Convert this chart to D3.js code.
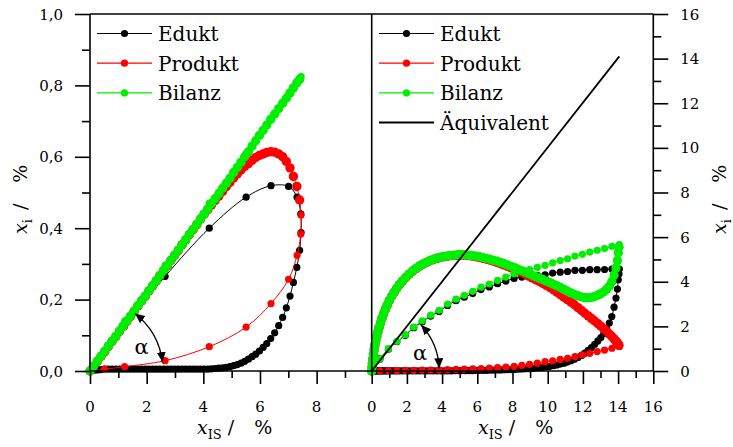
<!DOCTYPE html>
<html><head><meta charset="utf-8">
<script src="https://cdn.jsdelivr.net/npm/d3@7"></script>
<style>
body{margin:0;background:#fff}
svg{display:block}
text{font-family:"DejaVu Serif",serif;fill:#000}
</style>
</head><body>
<svg id="c" width="733" height="447"></svg>
<script>
// ---------------- DATA ----------------
// Left panel, phase A (sparse samples, x_IS rising)
const leftXA      = [0, 0.51, 1.22, 2.65, 4.21, 5.51, 6.39, 7.01, 7.31, 7.44, 7.45];
const leftEduktA  = [0, 0.051, 0.126, 0.265, 0.400, 0.487, 0.519, 0.517, 0.487, 0.440, 0.388];
const leftProduktA= [0, 0.005, 0.012, 0.029, 0.068, 0.123, 0.189, 0.257, 0.324, 0.384, 0.437];
const leftBilanzA = [0, 0.058, 0.140, 0.296, 0.470, 0.610, 0.708, 0.774, 0.811, 0.824, 0.825];
// Left panel, phase B (dense samples, x_IS falling)
const leftXB = [7.40, 7.30, 7.18, 7.06, 6.93, 6.80, 6.66, 6.52, 6.38, 6.24,
  6.11, 5.98, 5.85, 5.72, 5.59, 5.46, 5.33, 5.20, 5.07, 4.94,
  4.81, 4.68, 4.55, 4.42, 4.29, 4.16, 4.03, 3.90, 3.77, 3.64,
  3.51, 3.38, 3.25, 3.12, 2.99, 2.86, 2.73, 2.60, 2.47, 2.34,
  2.21, 2.08, 1.95, 1.82, 1.69, 1.56, 1.43, 1.30, 1.17, 1.04,
  0.91, 0.78, 0.65, 0.52, 0.39, 0.26, 0.13, 0.00];
const leftEduktB = [0.338, 0.290, 0.248, 0.210, 0.177, 0.150, 0.127, 0.107, 0.091, 0.077,
  0.066, 0.056, 0.047, 0.040, 0.033, 0.027, 0.022, 0.018, 0.015, 0.012,
  0.010, 0.009, 0.008, 0.007, 0.006, 0.005, 0.005, 0.005, 0.005, 0.005,
  0.005, 0.005, 0.005, 0.005, 0.005, 0.005, 0.005, 0.005, 0.005, 0.005,
  0.005, 0.005, 0.005, 0.005, 0.005, 0.005, 0.005, 0.005, 0.005, 0.005,
  0.005, 0.005, 0.005, 0.005, 0.004, 0.003, 0.002, 0];
const leftProduktB = [0.479, 0.517, 0.545, 0.569, 0.587, 0.600, 0.608, 0.613, 0.614, 0.612,
  0.608, 0.604, 0.598, 0.590, 0.581, 0.573, 0.563, 0.552, 0.541, 0.528,
  0.516, 0.503, 0.490, 0.478, 0.465, 0.452, 0.439, 0.425, 0.410, 0.396,
  0.382, 0.367, 0.353, 0.338, 0.324, 0.310, 0.295, 0.281, 0.267, 0.252,
  0.238, 0.224, 0.209, 0.196, 0.182, 0.167, 0.153, 0.139, 0.125, 0.111,
  0.096, 0.083, 0.069, 0.054, 0.041, 0.027, 0.013, 0];
const leftBilanzB = [0.817, 0.807, 0.793, 0.779, 0.764, 0.750, 0.735, 0.720, 0.705, 0.689,
  0.674, 0.660, 0.645, 0.630, 0.614, 0.600, 0.585, 0.570, 0.556, 0.540,
  0.526, 0.512, 0.497, 0.483, 0.469, 0.454, 0.440, 0.426, 0.411, 0.397,
  0.383, 0.368, 0.354, 0.339, 0.325, 0.311, 0.296, 0.282, 0.268, 0.253,
  0.239, 0.225, 0.210, 0.197, 0.183, 0.168, 0.154, 0.140, 0.126, 0.112,
  0.097, 0.084, 0.070, 0.055, 0.042, 0.028, 0.014, 0];

// Right panel, phase A (sparse)
const rightXA = [0, 0.47, 0.95, 1.43, 1.91, 2.39, 2.87, 3.35, 3.83, 4.31,
  4.79, 5.26, 5.74, 6.21, 6.68, 7.15, 7.62, 8.09, 8.53, 8.97,
  9.41, 9.85, 10.28, 10.71, 11.13, 11.55, 11.97, 12.39, 12.81, 13.23,
  13.65, 14.07];
const rightEduktA = [0, 0.54, 0.98, 1.31, 1.60, 1.94, 2.21, 2.46, 2.67, 2.94,
  3.15, 3.31, 3.47, 3.65, 3.77, 3.91, 4.03, 4.15, 4.21, 4.25,
  4.29, 4.31, 4.39, 4.43, 4.46, 4.51, 4.51, 4.54, 4.54, 4.55,
  4.57, 4.57];
const rightProduktA = [0, 0.01, 0.02, 0.02, 0.03, 0.03, 0.04, 0.04, 0.05, 0.06,
  0.07, 0.08, 0.10, 0.11, 0.13, 0.15, 0.18, 0.21, 0.25, 0.30,
  0.35, 0.42, 0.46, 0.52, 0.57, 0.64, 0.72, 0.79, 0.87, 0.94,
  1.02, 1.10];
const rightBilanzA = [0, 0.55, 1.00, 1.33, 1.63, 1.97, 2.25, 2.50, 2.72, 3.00,
  3.22, 3.39, 3.57, 3.76, 3.90, 4.06, 4.21, 4.36, 4.46, 4.55,
  4.64, 4.73, 4.85, 4.95, 5.03, 5.15, 5.23, 5.33, 5.41, 5.49,
  5.59, 5.67];
// Right panel, phase B (dense)
const rightXB = [14.05, 14.01, 13.96, 13.88, 13.77, 13.64, 13.50, 13.35, 13.19, 13.02,
  12.85, 12.67, 12.49, 12.30, 12.11, 11.92, 11.72, 11.52, 11.32, 11.12,
  10.92, 10.72, 10.52, 10.32, 10.12, 9.92, 9.72, 9.52, 9.32, 9.12,
  8.92, 8.72, 8.52, 8.32, 8.12, 7.92, 7.72, 7.52, 7.32, 7.12,
  6.92, 6.72, 6.52, 6.32, 6.12, 5.92, 5.72, 5.52, 5.32, 5.12,
  4.92, 4.72, 4.52, 4.32, 4.12, 3.92, 3.72, 3.52, 3.32, 3.12,
  2.92, 2.72, 2.52, 2.32, 2.12, 1.93, 1.75, 1.58, 1.42, 1.27,
  1.13, 1.00, 0.88, 0.77, 0.67, 0.58, 0.50, 0.42, 0.35, 0.29,
  0.23, 0.18, 0.14, 0.10, 0.07, 0.04, 0.02, 0.00];
const rightEduktB = [4.35, 4.09, 3.67, 3.27, 2.86, 2.44, 2.15, 1.90, 1.68, 1.50,
  1.35, 1.20, 1.05, 0.92, 0.80, 0.70, 0.61, 0.53, 0.46, 0.40,
  0.35, 0.31, 0.27, 0.24, 0.21, 0.19, 0.17, 0.15, 0.14, 0.12,
  0.11, 0.10, 0.09, 0.08, 0.07, 0.065, 0.06, 0.055, 0.05, 0.045,
  0.04, 0.035, 0.03, 0.03, 0.025, 0.025, 0.02, 0.02, 0.02, 0.015,
  0.015, 0.015, 0.01, 0.01, 0.01, 0.01, 0.01, 0.01, 0.01, 0.01,
  0.01, 0.01, 0.01, 0.01, 0.01, 0.01, 0.01, 0.01, 0.01, 0.01,
  0.01, 0.01, 0.01, 0.01, 0.01, 0.01, 0.01, 0.01, 0.01, 0.01,
  0.01, 0.01, 0.01, 0.01, 0.01, 0.005, 0, 0];
const rightProduktB = [1.15, 1.20, 1.26, 1.34, 1.44, 1.55, 1.66, 1.78, 1.89, 2.01,
  2.12, 2.24, 2.35, 2.47, 2.59, 2.71, 2.84, 2.97, 3.09, 3.20,
  3.31, 3.42, 3.53, 3.64, 3.74, 3.84, 3.93, 4.01, 4.09, 4.17,
  4.25, 4.33, 4.41, 4.48, 4.56, 4.62, 4.69, 4.75, 4.81, 4.87,
  4.92, 4.97, 5.01, 5.05, 5.09, 5.12, 5.15, 5.17, 5.18, 5.19,
  5.19, 5.18, 5.17, 5.15, 5.12, 5.09, 5.05, 5.00, 4.94, 4.87,
  4.79, 4.70, 4.59, 4.47, 4.33, 4.18, 4.03, 3.87, 3.70, 3.52,
  3.34, 3.15, 2.95, 2.75, 2.55, 2.35, 2.15, 1.95, 1.75, 1.55,
  1.35, 1.15, 0.95, 0.75, 0.55, 0.35, 0.18, 0];
const rightBilanzB = [5.55, 5.30, 4.95, 4.62, 4.30, 4.00, 3.80, 3.66, 3.55, 3.47,
  3.40, 3.34, 3.30, 3.28, 3.29, 3.32, 3.37, 3.43, 3.50, 3.58,
  3.66, 3.74, 3.82, 3.89, 3.96, 4.03, 4.10, 4.16, 4.23, 4.29,
  4.36, 4.43, 4.50, 4.56, 4.63, 4.69, 4.75, 4.81, 4.86, 4.92,
  4.96, 5.01, 5.04, 5.08, 5.12, 5.15, 5.17, 5.19, 5.20, 5.21,
  5.21, 5.19, 5.18, 5.16, 5.13, 5.10, 5.06, 5.01, 4.95, 4.88,
  4.80, 4.71, 4.60, 4.48, 4.34, 4.19, 4.04, 3.88, 3.71, 3.53,
  3.35, 3.16, 2.96, 2.76, 2.56, 2.36, 2.16, 1.96, 1.76, 1.56,
  1.36, 1.16, 0.96, 0.76, 0.56, 0.36, 0.18, 0];
// Equivalence line (right panel)
const equivX = [0, 14.07];
const equivY = [0, 14.10];

// Axis ticks / labels
const leftXMajor = [0, 2, 4, 6, 8];
const leftXMinor = [1, 3, 5, 7, 9];
const leftYMajor = [0, 0.2, 0.4, 0.6, 0.8, 1.0];
const leftYMinor = [0.1, 0.3, 0.5, 0.7, 0.9];
const rightXMajor = [0, 2, 4, 6, 8, 10, 12, 14, 16];
const rightXMinor = [1, 3, 5, 7, 9, 11, 13, 15];
const rightYMajor = [0, 2, 4, 6, 8, 10, 12, 14, 16];
const rightYMinor = [1, 3, 5, 7, 9, 11, 13, 15];
const seriesNames = ["Edukt", "Produkt", "Bilanz"];
const seriesColors = ["#000000", "#ff0000", "#00ee00"];
const equivName = "Äquivalent";

// ---------------- DRAW ----------------
const svg = d3.select("#c");
const xL = d3.scaleLinear().domain([0, 10]).range([90, 373.3]);
const yL = d3.scaleLinear().domain([0, 1]).range([371, 14]);
const xR = d3.scaleLinear().domain([0, 16]).range([371.7, 653.3]);
const yR = d3.scaleLinear().domain([0, 16]).range([371, 14]);

const defs = svg.append("defs");
defs.append("marker").attr("id", "ah").attr("viewBox", "0 0 10 9")
  .attr("refX", 10).attr("refY", 4.5).attr("markerWidth", 10).attr("markerHeight", 9)
  .attr("markerUnits", "userSpaceOnUse").attr("orient", "auto-start-reverse")
  .append("path").attr("d", "M0,0 L10,4.5 L0,9 Z").attr("fill", "#000");

function pts(xs, ys, r) { return d3.zip(xs, ys).map(p => [p[0], p[1], r]); }

function drawSeries(g, data, color, xs, ys) {
  const line = d3.line().x(d => xs(d[0])).y(d => ys(d[1])).curve(d3.curveCatmullRom.alpha(0.5));
  g.append("path").attr("d", line(data)).attr("fill", "none").attr("stroke", color).attr("stroke-width", 1);
  g.selectAll(null).data(data).enter().append("circle")
    .attr("cx", d => xs(d[0])).attr("cy", d => ys(d[1])).attr("r", d => d[2]).attr("fill", color);
}

const RA = 3.6, RB = 4.7;
const leftSeries = [
  pts(leftXA, leftEduktA, RA).concat(pts(leftXB, leftEduktB, RA)),
  pts(leftXA, leftProduktA, RA).concat(pts(leftXB, leftProduktB, RB)),
  pts(leftXA, leftBilanzA, RA).concat(pts(leftXB, leftBilanzB, RB))
];
const rightSeries = [
  pts(rightXA, rightEduktA, RA).concat(pts(rightXB, rightEduktB, RA)),
  pts(rightXA, rightProduktA, RA).concat(pts(rightXB, rightProduktB, RB)),
  pts(rightXA, rightBilanzA, RA).concat(pts(rightXB, rightBilanzB, RB))
];

const gL = svg.append("g");
leftSeries.forEach((s, i) => drawSeries(gL, s, seriesColors[i], xL, yL));
const gR = svg.append("g");
rightSeries.forEach((s, i) => drawSeries(gR, s, seriesColors[i], xR, yR));
gR.append("path").attr("d", d3.line().x(d => xR(d[0])).y(d => yR(d[1]))(d3.zip(equivX, equivY)))
  .attr("stroke", "#000").attr("stroke-width", 1.8).attr("fill", "none");

// alpha annotations
function arcPath(cx, cy, r, a0, a1) {
  const t0 = a0 * Math.PI / 180, t1 = a1 * Math.PI / 180;
  return `M${cx + r * Math.cos(t0)},${cy - r * Math.sin(t0)} A${r},${r} 0 0 1 ${cx + r * Math.cos(t1)},${cy - r * Math.sin(t1)}`;
}
svg.append("path").attr("d", arcPath(xL(0), yL(0), 73, 52, 7)).attr("fill", "none")
  .attr("stroke", "#000").attr("stroke-width", 1.3)
  .attr("marker-start", "url(#ah)").attr("marker-end", "url(#ah)");
svg.append("path").attr("d", arcPath(xR(0), yR(0), 67.5, 43, 2.3)).attr("fill", "none")
  .attr("stroke", "#000").attr("stroke-width", 1.3)
  .attr("marker-start", "url(#ah)").attr("marker-end", "url(#ah)");
svg.append("text").attr("x", xL(0) + 51.5).attr("y", yL(0) - 17.5).attr("text-anchor", "middle")
  .style("font-size", "21px").text("α");
svg.append("text").attr("x", xR(0) + 48.3).attr("y", yR(0) - 11).attr("text-anchor", "middle")
  .style("font-size", "21px").text("α");

// frame
const AX = 1.6;
const frame = svg.append("g").attr("stroke", "#000").attr("stroke-width", AX).attr("fill", "none");
frame.append("line").attr("x1", xL(0)).attr("x2", xR(16)).attr("y1", yL(0)).attr("y2", yL(0));
frame.append("line").attr("x1", xL(0)).attr("x2", xR(16)).attr("y1", yL(1)).attr("y2", yL(1));
frame.append("line").attr("x1", xL(0)).attr("x2", xL(0)).attr("y1", yL(0)).attr("y2", yL(1));
frame.append("line").attr("x1", xR(0)).attr("x2", xR(0)).attr("y1", yR(0)).attr("y2", yR(16));
frame.append("line").attr("x1", xR(16)).attr("x2", xR(16)).attr("y1", yR(0)).attr("y2", yR(16));

function ticks(axis) {
  const g = svg.append("g").call(axis);
  g.select(".domain").remove();
  g.selectAll("text").remove();
  g.selectAll("line").attr("stroke-width", AX);
  return g;
}
ticks(d3.axisBottom(xL).tickValues(leftXMajor).tickSize(13)).attr("transform", `translate(0,${yL(0)})`);
ticks(d3.axisBottom(xL).tickValues(leftXMinor).tickSize(7)).attr("transform", `translate(0,${yL(0)})`);
ticks(d3.axisBottom(xR).tickValues(rightXMajor).tickSize(13)).attr("transform", `translate(0,${yR(0)})`);
ticks(d3.axisBottom(xR).tickValues(rightXMinor).tickSize(7)).attr("transform", `translate(0,${yR(0)})`);
ticks(d3.axisLeft(yL).tickValues(leftYMajor).tickSize(15)).attr("transform", `translate(${xL(0)},0)`);
ticks(d3.axisLeft(yL).tickValues(leftYMinor).tickSize(8)).attr("transform", `translate(${xL(0)},0)`);
ticks(d3.axisRight(yR).tickValues(rightYMajor).tickSize(15)).attr("transform", `translate(${xR(16)},0)`);
ticks(d3.axisRight(yR).tickValues(rightYMinor).tickSize(8)).attr("transform", `translate(${xR(16)},0)`);

const fmtL = d => d3.format(".1f")(d).replace(".", ",");
const lab = svg.append("g").style("font-size", "15px");
lab.selectAll(null).data(leftXMajor).enter().append("text")
  .attr("x", d => xL(d)).attr("y", yL(0) + 41).attr("text-anchor", "middle").text(d => d);
lab.selectAll(null).data(rightXMajor).enter().append("text")
  .attr("x", d => xR(d)).attr("y", yR(0) + 41).attr("text-anchor", "middle").text(d => d);
lab.selectAll(null).data(leftYMajor).enter().append("text")
  .attr("x", xL(0) - 27).attr("y", d => yL(d) + 5.5).attr("text-anchor", "end").text(fmtL);
lab.selectAll(null).data(rightYMajor).enter().append("text")
  .attr("x", xR(16) + 27).attr("y", d => yR(d) + 5.5).attr("text-anchor", "start").text(d => d);

// axis titles
function xTitle(x0) {
  const t = svg.append("text").attr("x", x0).attr("y", 434).style("font-size", "19px");
  t.append("tspan").style("font-style", "italic").text("x");
  t.append("tspan").attr("dy", 5).style("font-size", "13px").text("IS");
  t.append("tspan").attr("dy", -5).attr("dx", 6).text("/");
  t.append("tspan").attr("dx", 20).text("%");
}
xTitle(197);
xTitle(478);
function yTitle(bx, by) {
  const t = svg.append("text").attr("transform", `translate(${bx},${by}) rotate(-90)`).style("font-size", "19px");
  t.append("tspan").style("font-style", "italic").text("x");
  t.append("tspan").attr("dy", 5).style("font-size", "13px").text("i");
  t.append("tspan").attr("dy", -5).attr("dx", 9).text("/");
  t.append("tspan").attr("dx", 21).text("%");
}
yTitle(27, 234);
yTitle(726, 234);

// legends
function legend(x0, rows) {
  rows.forEach((r, i) => {
    const y = 33.5 + i * 29.7;
    const g = svg.append("g");
    g.append("line").attr("x1", x0).attr("x2", x0 + 55).attr("y1", y).attr("y2", y)
      .attr("stroke", r.color).attr("stroke-width", r.marker ? 1.2 : 2);
    if (r.marker) g.append("circle").attr("cx", x0 + 27.5).attr("cy", y).attr("r", 3.6).attr("fill", r.color);
    g.append("text").attr("x", x0 + 61).attr("y", y + 7.5).style("font-size", "20px").text(r.name);
  });
}
const legRows = seriesNames.map((n, i) => ({name: n, color: seriesColors[i], marker: true}));
legend(97, legRows);
legend(379, legRows.concat([{name: equivName, color: "#000", marker: false}]));
</script>
</body></html>
